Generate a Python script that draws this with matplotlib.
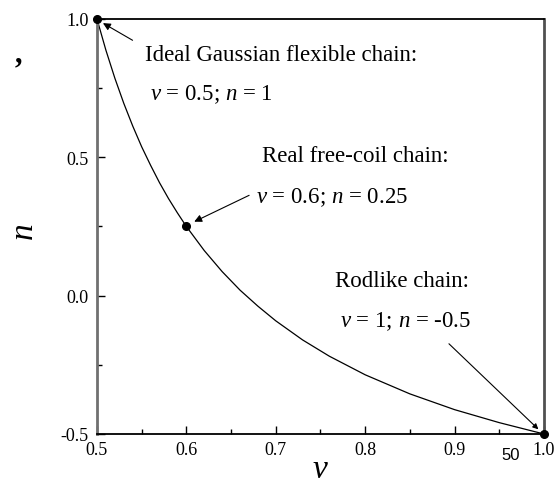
import matplotlib
matplotlib.use("Agg")
import matplotlib.pyplot as plt
from matplotlib.ticker import MultipleLocator, FormatStrFormatter

plt.rcParams['font.family'] = ['Liberation Serif', 'DejaVu Serif']
plt.rcParams['mathtext.fontset'] = 'custom'
plt.rcParams['mathtext.it'] = 'Liberation Serif:italic'
plt.rcParams['mathtext.rm'] = 'Liberation Serif'

# curve
nu_vals = [0.50, 0.51, 0.52, 0.53, 0.54, 0.55, 0.56, 0.57, 0.58, 0.59, 0.60,
           0.62, 0.64, 0.66, 0.68, 0.70, 0.73, 0.76, 0.80, 0.85, 0.90, 0.95, 1.00]
n_vals = [1.00, 0.887, 0.786, 0.695, 0.613, 0.538, 0.471, 0.408, 0.351, 0.299, 0.25,
          0.163, 0.087, 0.020, -0.038, -0.091, -0.160, -0.219, -0.286, -0.355, -0.412, -0.459, -0.50]

# highlighted points
pt_nu = [0.5, 0.6, 1.0]
pt_n = [1.0, 0.25, -0.5]
pt_titles = ["Ideal Gaussian flexible chain:", "Real free-coil chain:", "Rodlike chain:"]
pt_labels = [r"$\nu$ = 0.5; $n$ = 1", r"$\nu$ = 0.6; $n$ = 0.25", r"$\nu$ = 1; $n$ = -0.5"]

x_ticks = [0.5, 0.6, 0.7, 0.8, 0.9, 1.0]
y_ticks = [-0.5, 0.0, 0.5, 1.0]

fig = plt.figure(figsize=(5.58, 5.02), dpi=100)
ax = fig.add_axes([0.1738, 0.1335, 0.801, 0.8267])

ax.plot(nu_vals, n_vals, color='black', lw=0.9, zorder=2)
ax.plot(pt_nu, pt_n, 'o', color='black', ms=5.5, zorder=3, clip_on=False)

ax.set_xlim(0.5, 1.0)
ax.set_ylim(-0.5, 1.0)
ax.set_xticks(x_ticks)
ax.set_yticks(y_ticks)
ax.xaxis.set_minor_locator(MultipleLocator(0.05))
ax.yaxis.set_minor_locator(MultipleLocator(0.25))
ax.xaxis.set_major_formatter(FormatStrFormatter('%.1f'))
ax.yaxis.set_major_formatter(FormatStrFormatter('%.1f'))
ax.tick_params(which='both', direction='in', labelsize=13, width=1.0)
ax.tick_params(which='major', length=6)
ax.tick_params(which='minor', length=3.5)
ax.tick_params(axis='y', pad=6)
ax.tick_params(axis='x', pad=5)

for side in ['top', 'bottom']:
    ax.spines[side].set_color('black')
    ax.spines[side].set_linewidth(1.3)
ax.spines['left'].set_color('#707070')
ax.spines['left'].set_linewidth(2.0)
ax.spines['right'].set_color('#505050')
ax.spines['right'].set_linewidth(2.0)

fs = 16.5
# annotation 1
ax.text(0.5537, 0.873, pt_titles[0], fontsize=fs, va='center', ha='left')
ax.text(0.5593, 0.729, pt_labels[0], fontsize=fs, va='center', ha='left')
ax.annotate('', xy=(pt_nu[0] + 0.004, pt_n[0] - 0.01), xytext=(0.5425, 0.918),
            arrowprops=dict(arrowstyle='-|>', color='black', lw=0.8, mutation_scale=11))
# annotation 2
ax.text(0.6846, 0.505, pt_titles[1], fontsize=fs, va='center', ha='left')
ax.text(0.6777, 0.357, pt_labels[1], fontsize=fs, va='center', ha='left')
ax.annotate('', xy=(pt_nu[1] + 0.006, pt_n[1] + 0.013), xytext=(0.673, 0.367),
            arrowprops=dict(arrowstyle='-|>', color='black', lw=0.8, mutation_scale=11))
# annotation 3
ax.text(0.766, 0.055, pt_titles[2], fontsize=fs, va='center', ha='left')
ax.text(0.772, -0.09, pt_labels[2], fontsize=fs, va='center', ha='left')
ax.annotate('', xy=(pt_nu[2] - 0.004, pt_n[2] + 0.01), xytext=(0.8915, -0.167),
            arrowprops=dict(arrowstyle='-|>', color='black', lw=0.8, mutation_scale=8))

fig.text(25 / 558, 1 - 232 / 502, r'$n$', fontsize=24, rotation=90, ha='center', va='center')
fig.text(320 / 558, 1 - 470 / 502, r'$\nu$', fontsize=24, ha='center', va='center')
fig.text(18 / 558, 1 - 55 / 502, ',', fontsize=22, fontweight='bold', ha='center', va='center')
fig.text(511 / 558, 1 - 456 / 502, '50', fontsize=12, family='Liberation Sans', ha='center', va='center')

fig.savefig('out.png', dpi=100)
